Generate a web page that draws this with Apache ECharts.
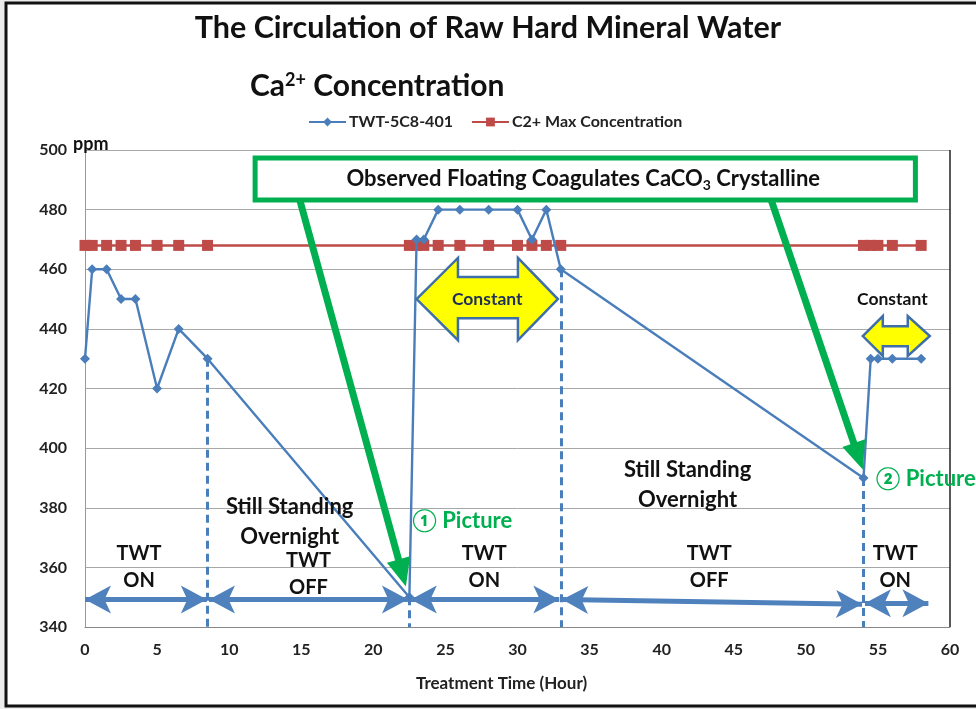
<!DOCTYPE html>
<html lang="en">
<head>
    <meta charset="UTF-8">
    <title>Ca2+ Concentration</title>
    <script src="https://cdn.jsdelivr.net/npm/echarts@6/dist/echarts.min.js"></script>
    <style>
        html, body { margin: 0; padding: 0; background: #ececec; }
        #chart { width: 976px; height: 709px; }
    </style>
</head>
<body>
<div id="chart"></div>
<script>
    // data
    var hours = [0, 0.5, 1.5, 2.5, 3.5, 5, 6.5, 8.5, 22.5, 23, 23.5, 24.5, 26, 28, 30, 31, 32, 33, 54, 54.5, 55, 56, 58];
    var twtValues = [430, 460, 460, 450, 450, 420, 440, 430, 350, 470, 470, 480, 480, 480, 480, 470, 480, 460, 390, 430, 430, 430, 430];
    var maxConcentration = 468;
    var phaseHours = [8.5, 22.5, 33, 54];
    var phaseTop = [430, 350, 460, 390];
    var xRange = [0, 60, 5];
    var yRange = [340, 500, 20];

    var font = 'Lato, "Open Sans", sans-serif';
    var blue = '#4a7ebb';
    var red = '#be4b48';
    var green = '#00b050';

    var twtData = [], maxData = [];
    for (var i = 0; i < hours.length; i++) {
        twtData.push([hours[i], twtValues[i]]);
        maxData.push([hours[i], maxConcentration]);
    }

    // dashed phase separators
    var dashLines = [];
    for (var j = 0; j < phaseHours.length; j++) {
        dashLines.push([{coord: [phaseHours[j], phaseTop[j]]}, {coord: [phaseHours[j], yRange[0]]}]);
    }

    // double headed period arrows [x1, y1, x2, y2]
    var periods = [[0, 349.2, 8.45, 349.2], [8.6, 349.2, 22.4, 349.2], [22.6, 349.2, 32.9, 349.2],
        [33.1, 349.2, 53.9, 347.6], [54.1, 348, 58.5, 348]];
    var periodLines = periods.map(function (p) {
        return [{coord: [p[0], p[1]]}, {coord: [p[2], p[3]]}];
    });

    var chart = echarts.init(document.getElementById('chart'));

    var option = {
        backgroundColor: '#ececec',
        animation: false,
        title: [{
            text: 'The Circulation of Raw Hard Mineral Water',
            left: 'center',
            top: 8,
            textStyle: {fontFamily: font, fontSize: 30.5, fontWeight: 'bold', color: '#111'}
        }, {
            text: 'Ca{sup|2+} Concentration',
            left: 245,
            top: 66,
            textStyle: {
                fontFamily: font, fontSize: 30, fontWeight: 'bold', color: '#111',
                rich: {sup: {fontFamily: font, fontSize: 18, fontWeight: 'bold', color: '#111', verticalAlign: 'top', padding: [0, 0, 12, 0]}}
            }
        }],
        legend: {
            data: ['TWT-5C8-401', 'C2+ Max Concentration'],
            left: 303,
            top: 109,
            itemWidth: 37,
            itemHeight: 11,
            itemGap: 18,
            textStyle: {fontFamily: font, fontSize: 16, fontWeight: 'bold', color: '#222', padding: [0, 0, 0, -2]}
        },
        grid: {left: 85, top: 150, right: 26, bottom: 82},
        xAxis: {
            type: 'value',
            min: xRange[0], max: xRange[1], interval: xRange[2],
            name: 'Treatment Time (Hour)',
            nameLocation: 'middle',
            nameGap: 48,
            nameTextStyle: {fontFamily: font, fontSize: 17, fontWeight: 'bold', color: '#222', padding: [0, 32, 0, 0]},
            axisLine: {lineStyle: {color: '#888'}},
            axisTick: {show: false},
            splitLine: {show: false},
            axisLabel: {margin: 15, fontFamily: font, fontSize: 16, fontWeight: 'bold', color: '#222'}
        },
        yAxis: {
            type: 'value',
            min: yRange[0], max: yRange[1], interval: yRange[2],
            axisLine: {show: true, lineStyle: {color: '#999'}},
            axisTick: {show: false},
            splitLine: {lineStyle: {color: '#a8a8a8', width: 1}},
            axisLabel: {margin: 18, fontFamily: font, fontSize: 16, fontWeight: 'bold', color: '#222'}
        },
        series: [{
            name: 'C2+ Max Concentration',
            type: 'line',
            data: maxData,
            symbol: 'rect',
            symbolSize: 11,
            lineStyle: {color: red, width: 2.5},
            itemStyle: {color: red},
            z: 3
        }, {
            name: 'TWT-5C8-401',
            type: 'line',
            data: twtData,
            symbol: 'diamond',
            symbolSize: 10,
            lineStyle: {color: blue, width: 2.4},
            itemStyle: {color: blue},
            z: 4
        }, {
            name: 'phases',
            type: 'line',
            data: [],
            markLine: {
                silent: true,
                symbol: ['none', 'none'],
                label: {show: false},
                lineStyle: {color: blue, width: 3, type: [8, 5]},
                data: dashLines
            }
        }, {
            name: 'periods',
            type: 'line',
            data: [],
            markLine: {
                silent: true,
                symbol: ['arrow', 'arrow'],
                symbolSize: [21, 26],
                label: {show: false},
                lineStyle: {color: '#4f81bd', width: 5, type: 'solid'},
                data: periodLines
            }
        }]
    };
    chart.setOption(option);

    // annotations, positioned in data units
    var texts = [
        {t: 'TWT\nON', x: 3.75, y: 360.2, s: 20, lh: 27},
        {t: 'Still Standing\nOvernight', x: 14.2, y: 375.2, s: 22, lh: 30},
        {t: 'TWT\nOFF', x: 15.5, y: 357.9, s: 20, lh: 27},
        {t: 'TWT\nON', x: 27.7, y: 360.2, s: 20, lh: 27},
        {t: 'Still Standing\nOvernight', x: 41.8, y: 387.6, s: 22, lh: 30},
        {t: 'TWT\nOFF', x: 43.3, y: 360.2, s: 20, lh: 27},
        {t: 'TWT\nON', x: 56.2, y: 360.2, s: 20, lh: 27},
        {t: 'Constant', x: 56.0, y: 450.0, s: 17.5, lh: 20}
    ];
    var pictures = [
        {t: '\u2460 Picture', x: 22.7, y: 375.5},
        {t: '\u2461 Picture', x: 54.85, y: 389.6}
    ];
    var calloutBox = [11.8, 497.3, 57.6, 483.2];
    var calloutArrows = [[14.9, 483.2, 22.26, 353.6], [47.6, 483.2, 53.95, 392.8]];
    // [tipL, baseL, baseR, tipR, headTop, shaftTop, shaftBottom, headBottom, label]
    var constArrows = [
        [23.0, 25.87, 30.03, 32.8, 463.8, 457.4, 443.6, 436.2, 'Constant'],
        [53.95, 55.34, 57.07, 58.6, 444.3, 440.9, 434.2, 430.9, '']
    ];

    function px(x, y) {
        return chart.convertToPixel({gridIndex: 0}, [x, y]);
    }

    var graphics = [];
    var topLeft = px(xRange[0], yRange[1]);
    var botRight = px(xRange[1], yRange[0]);

    // outer frame
    graphics.push({
        type: 'rect', z: -10, silent: true,
        shape: {x: 6, y: 3, width: 1000, height: 703},
        style: {fill: '#fff', stroke: '#111', lineWidth: 3}
    });
    // right plot border
    graphics.push({
        type: 'line', z: 1, silent: true,
        shape: {x1: botRight[0], y1: topLeft[1], x2: botRight[0], y2: botRight[1]},
        style: {stroke: '#222', lineWidth: 1.5}
    });
    // unit label
    graphics.push({
        type: 'text', z: 50, silent: true, x: topLeft[0] - 12, y: topLeft[1] - 6,
        style: {text: 'ppm', fill: '#111', font: 'bold 18px ' + font, align: 'left', verticalAlign: 'middle'}
    });

    texts.forEach(function (a) {
        var p = px(a.x, a.y);
        graphics.push({
            type: 'text', z: 50, silent: true, x: p[0], y: p[1],
            style: {text: a.t, fill: '#111', font: 'bold ' + a.s + 'px ' + font, align: 'center', verticalAlign: 'middle', lineHeight: a.lh}
        });
    });
    pictures.forEach(function (a) {
        var p = px(a.x, a.y);
        graphics.push({
            type: 'text', z: 50, silent: true, x: p[0], y: p[1],
            style: {text: a.t, fill: green, font: 'bold 22px ' + font, align: 'left', verticalAlign: 'middle'}
        });
    });

    // callout box
    var b0 = px(calloutBox[0], calloutBox[1]);
    var b1 = px(calloutBox[2], calloutBox[3]);
    graphics.push({
        type: 'rect', z: 40, silent: true,
        shape: {x: b0[0], y: b0[1], width: b1[0] - b0[0], height: b1[1] - b0[1]},
        style: {fill: '#fff', stroke: green, lineWidth: 5}
    });
    graphics.push({
        type: 'text', z: 41, silent: true, x: (b0[0] + b1[0]) / 2 - 2, y: (b0[1] + b1[1]) / 2,
        style: {
            text: 'Observed Floating Coagulates CaCO{sub|3} Crystalline',
            fill: '#111', font: 'bold 22px ' + font, align: 'center', verticalAlign: 'middle',
            rich: {sub: {fill: '#111', font: 'bold 14px ' + font, padding: [12, 0, 0, 0]}}
        }
    });

    // green callout arrows
    calloutArrows.forEach(function (a) {
        var p0 = px(a[0], a[1]), p1 = px(a[2], a[3]);
        var dx = p1[0] - p0[0], dy = p1[1] - p0[1];
        var len = Math.sqrt(dx * dx + dy * dy);
        var ux = dx / len, uy = dy / len, nx = -uy, ny = ux;
        var w = 3.5, hw = 12, hl = 28;
        var bx = p1[0] - ux * hl, by = p1[1] - uy * hl;
        graphics.push({
            type: 'polygon', z: 45, silent: true,
            shape: {points: [
                [p0[0] + nx * w, p0[1] + ny * w], [bx + nx * w, by + ny * w], [bx + nx * hw, by + ny * hw],
                [p1[0], p1[1]],
                [bx - nx * hw, by - ny * hw], [bx - nx * w, by - ny * w], [p0[0] - nx * w, p0[1] - ny * w]
            ]},
            style: {fill: green}
        });
    });

    // yellow "constant" double arrows
    constArrows.forEach(function (a) {
        var yc = (a[4] + a[7]) / 2;
        var pts = [[a[0], yc], [a[1], a[4]], [a[1], a[5]], [a[2], a[5]], [a[2], a[4]], [a[3], yc],
            [a[2], a[7]], [a[2], a[6]], [a[1], a[6]], [a[1], a[7]]].map(function (q) { return px(q[0], q[1]); });
        graphics.push({
            type: 'polygon', z: 45, silent: true,
            shape: {points: pts},
            style: {fill: '#ffff00', stroke: '#3f6fa8', lineWidth: 2.5, lineJoin: 'miter'}
        });
        if (a[8]) {
            var c = px((a[0] + a[3]) / 2, yc);
            graphics.push({
                type: 'text', z: 46, silent: true, x: c[0], y: c[1],
                style: {text: a[8], fill: '#1f2f5a', font: 'bold 17.5px ' + font, align: 'center', verticalAlign: 'middle'}
            });
        }
    });

    chart.setOption({graphic: graphics});
</script>
</body>
</html>
